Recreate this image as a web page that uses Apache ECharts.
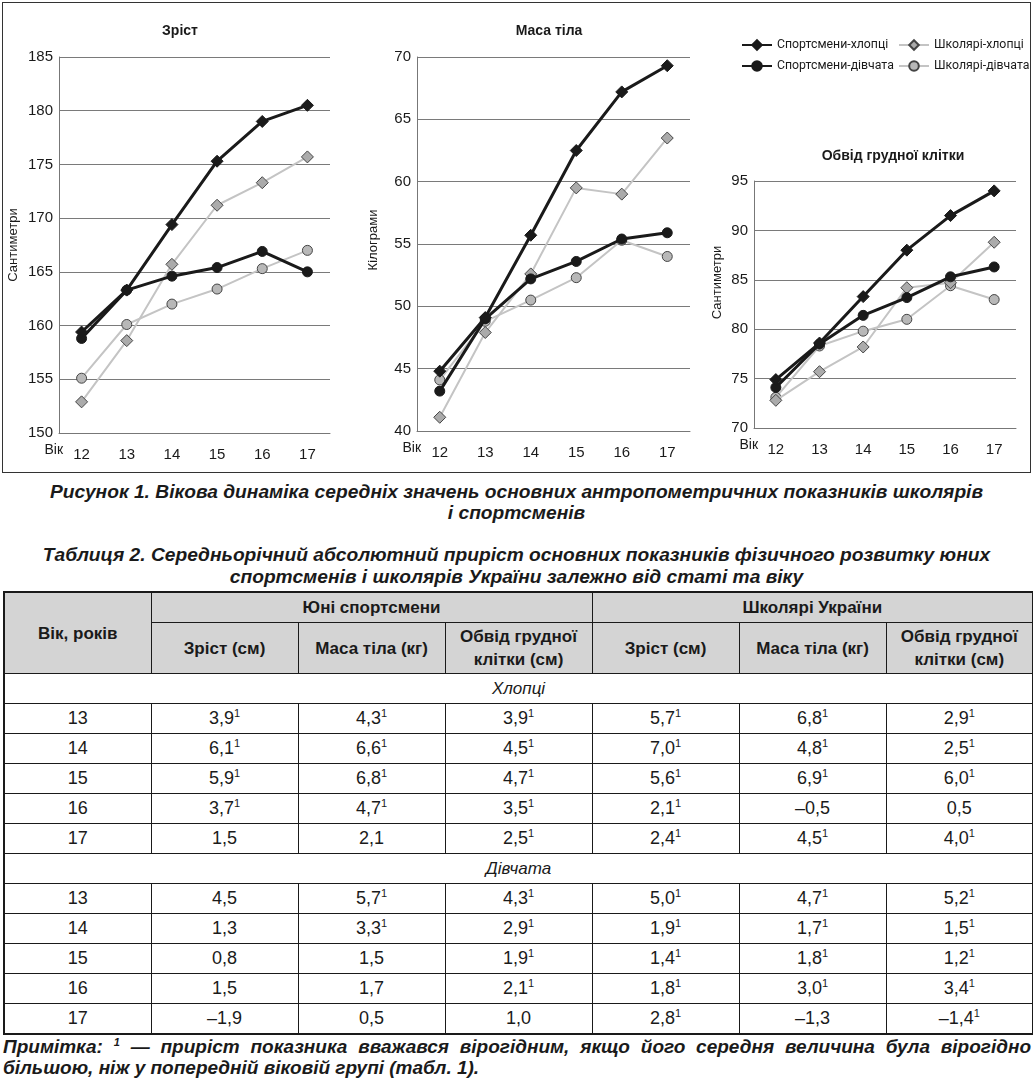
<!DOCTYPE html>
<html><head><meta charset="utf-8">
<script src="https://cdn.jsdelivr.net/npm/echarts@6/dist/echarts.min.js"></script>
<style>
html,body{margin:0;padding:0;background:#fff;width:1033px;height:1081px;overflow:hidden;font-family:"Liberation Sans",Arial,sans-serif;color:#1a1a1a;}
#frame{position:absolute;left:2px;top:2px;width:1027px;height:469px;border:1px solid #333;}
#chart{position:absolute;left:0;top:0;width:1033px;height:475px;}
.cap{position:absolute;left:0;width:1033px;text-align:center;font-weight:bold;font-style:italic;font-size:19.2px;}
#cap1{top:481px;line-height:21px;}
#cap2{top:544px;line-height:22px;}
#tbl{position:absolute;left:3px;top:591px;width:1028px;border-collapse:collapse;table-layout:fixed;border:2px solid #1a1a1a;}
#tbl td{border:1px solid #1a1a1a;text-align:center;vertical-align:middle;padding:0;font-size:18px;height:29px;}
#tbl td.h{background:#d4d4d4;font-weight:bold;font-size:17px;line-height:23px;}
#tbl td.sec{font-style:italic;font-size:17px;}
#tbl sup{font-size:11px;vertical-align:7px;line-height:0;}
#note{position:absolute;left:3px;top:1036px;width:1028px;font-weight:bold;font-style:italic;font-size:19px;line-height:21px;text-align:justify;text-align-last:left;}
#note sup{font-size:11px;vertical-align:7px;line-height:0;}
</style></head>
<body>
<div id="chart"></div>
<div id="frame"></div>
<div id="cap1" class="cap">Рисунок 1. Вікова динаміка середніх значень основних антропометричних показників школярів<br>і спортсменів</div>
<div id="cap2" class="cap">Таблиця 2. Середньорічний абсолютний приріст основних показників фізичного розвитку юних<br>спортсменів і школярів України залежно від статі та віку</div>
<table id="tbl"></table>
<div id="note">Примітка: <sup>1</sup> — приріст показника вважався вірогідним, якщо його середня величина була вірогідно більшою, ніж у попередній віковій групі (табл. 1).</div>
<script>
// ---- chart data ----
const ages = ['12','13','14','15','16','17'];
const seriesNames = ['Спортсмени-хлопці','Школярі-хлопці','Спортсмени-дівчата','Школярі-дівчата'];
const chartTitles = ['Зріст','Маса тіла','Обвід грудної клітки'];
const axisNames = ['Сантиметри','Кілограми','Сантиметри'];

const heightSportBoys   = [159.4,163.3,169.4,175.3,179.0,180.5];
const heightSchoolBoys  = [152.9,158.6,165.7,171.2,173.3,175.7];
const heightSportGirls  = [158.8,163.3,164.6,165.4,166.9,165.0];
const heightSchoolGirls = [155.1,160.1,162.0,163.4,165.3,167.0];

const massSportBoys   = [44.8,49.1,55.7,62.5,67.2,69.3];
const massSchoolBoys  = [41.1,47.9,52.6,59.5,59.0,63.5];
const massSportGirls  = [43.2,49.0,52.2,53.6,55.4,55.9];
const massSchoolGirls = [44.1,48.8,50.5,52.3,55.3,54.0];

const chestSportBoys   = [74.9,78.6,83.3,88.0,91.5,94.0];
const chestSchoolBoys  = [72.8,75.7,78.2,84.2,84.7,88.8];
const chestSportGirls  = [74.1,78.5,81.4,83.2,85.3,86.3];
const chestSchoolGirls = [73.1,78.3,79.8,81.0,84.4,83.0];

const yMins = [150,40,70];
const yMaxs = [185,70,95];

// ---- table data ----
const headGroups = ['Юні спортсмени','Школярі України'];
const headCols = ['Зріст (см)','Маса тіла (кг)','Обвід грудної<br>клітки (см)'];
const ageHead = 'Вік, років';
const sectionBoys = 'Хлопці';
const sectionGirls = 'Дівчата';
const boysRows = [
  ['13','3,9¹','4,3¹','3,9¹','5,7¹','6,8¹','2,9¹'],
  ['14','6,1¹','6,6¹','4,5¹','7,0¹','4,8¹','2,5¹'],
  ['15','5,9¹','6,8¹','4,7¹','5,6¹','6,9¹','6,0¹'],
  ['16','3,7¹','4,7¹','3,5¹','2,1¹','–0,5','0,5'],
  ['17','1,5','2,1','2,5¹','2,4¹','4,5¹','4,0¹']
];
const girlsRows = [
  ['13','4,5','5,7¹','4,3¹','5,0¹','4,7¹','5,2¹'],
  ['14','1,3','3,3¹','2,9¹','1,9¹','1,7¹','1,5¹'],
  ['15','0,8','1,5','1,9¹','1,4¹','1,8¹','1,2¹'],
  ['16','1,5','1,7','2,1¹','1,8¹','3,0¹','3,4¹'],
  ['17','–1,9','0,5','1,0','2,8¹','–1,3','–1,4¹']
];

// ---- build table ----
function cell(v){ return v.endsWith('¹') ? v.slice(0,-1)+'<sup>1</sup>' : v; }
let html = '<colgroup>' + '<col style="width:147px">'.repeat(7) + '</colgroup>';
html += '<tr style="height:30px"><td class="h" rowspan="2">'+ageHead+'</td><td class="h" colspan="3">'+headGroups[0]+'</td><td class="h" colspan="3">'+headGroups[1]+'</td></tr>';
html += '<tr style="height:51px">' + headCols.concat(headCols).map(c=>'<td class="h">'+c+'</td>').join('') + '</tr>';
html += '<tr style="height:30px"><td class="sec" colspan="7">'+sectionBoys+'</td></tr>';
boysRows.forEach(r=>{ html += '<tr style="height:30px">'+r.map(v=>'<td>'+cell(v)+'</td>').join('')+'</tr>'; });
html += '<tr style="height:30px"><td class="sec" colspan="7">'+sectionGirls+'</td></tr>';
girlsRows.forEach(r=>{ html += '<tr style="height:30px">'+r.map(v=>'<td>'+cell(v)+'</td>').join('')+'</tr>'; });
document.getElementById('tbl').innerHTML = html;

// ---- chart ----
const grids = [
  {left:59, top:57, width:271, height:376},
  {left:417, top:57, width:273, height:374},
  {left:754, top:181, width:262, height:247}
];
const titlePos = [{x:175,y:19},{x:544,y:19},{x:888,y:144}];
const nameGaps = [39,37,30];
const namePads = [[0,0,0,0],[0,0,0,8],[0,0,0,44]];
const dataSets = [
  [heightSportBoys,heightSchoolBoys,heightSportGirls,heightSchoolGirls],
  [massSportBoys,massSchoolBoys,massSportGirls,massSchoolGirls],
  [chestSportBoys,chestSchoolBoys,chestSportGirls,chestSchoolGirls]
];
const FONT = '"Liberation Sans", Arial, sans-serif';
const LFONT = 'Roboto, "Liberation Sans", sans-serif';
const styles = [
  {symbol:'diamond', symbolSize:12, line:{color:'#1a1a1a', width:3}, item:{color:'#1a1a1a', borderColor:'#1a1a1a', borderWidth:1}, z:4},
  {symbol:'diamond', symbolSize:12, line:{color:'#c4c4c4', width:2}, item:{color:'#ababab', borderColor:'#444', borderWidth:1}, z:2},
  {symbol:'circle', symbolSize:10, line:{color:'#1a1a1a', width:3}, item:{color:'#1a1a1a', borderColor:'#1a1a1a', borderWidth:1}, z:3},
  {symbol:'circle', symbolSize:10, line:{color:'#c4c4c4', width:2}, item:{color:'#b8b8b8', borderColor:'#444', borderWidth:1}, z:1}
];
const series = [];
dataSets.forEach((set,gi)=>{
  set.forEach((vals,si)=>{
    const s = styles[si];
    series.push({
      name: seriesNames[si], type:'line', xAxisIndex:gi, yAxisIndex:gi,
      data: vals, symbol: s.symbol, symbolSize: s.symbolSize,
      showAllSymbol:true, z: s.z, animation:false,
      lineStyle: s.line, itemStyle: s.item
    });
  });
});
const chart = echarts.init(document.getElementById('chart'), null, {renderer:'canvas'});
chart.setOption({
  animation:false,
  textStyle:{fontFamily:FONT},
  title: chartTitles.map((t,i)=>({text:t, left:titlePos[i].x, top:titlePos[i].y, textAlign:'center',
    textStyle:{fontSize:14, fontWeight:'bold', color:'#1a1a1a', fontFamily:FONT}})),
  legend: [
    {data:[seriesNames[0],seriesNames[2]], orient:'vertical', left:736, top:34, itemWidth:30, itemHeight:12, itemGap:9,
     textStyle:{fontSize:12.3, color:'#1a1a1a', fontFamily:LFONT}},
    {data:[seriesNames[1],seriesNames[3]], orient:'vertical', left:893, top:34, itemWidth:30, itemHeight:12, itemGap:9,
     textStyle:{fontSize:12.3, color:'#1a1a1a', fontFamily:LFONT}}
  ],
  grid: grids,
  xAxis: grids.map((g,i)=>({type:'category', gridIndex:i, data:ages, boundaryGap:true,
    name:'Вік', nameLocation:'start', nameGap:-4,
    nameTextStyle:{fontSize:14, color:'#1a1a1a', verticalAlign:'top', padding:[10,0,0,0], fontFamily:FONT},
    axisLine:{show:true, lineStyle:{color:'#777', width:1}}, axisTick:{show:false},
    axisLabel:{fontSize:15, color:'#1a1a1a', margin:14, fontFamily:FONT}})),
  yAxis: grids.map((g,i)=>({type:'value', gridIndex:i, min:yMins[i], max:yMaxs[i], interval:5,
    name:axisNames[i], nameLocation:'middle', nameGap:nameGaps[i], nameRotate:90,
    nameTextStyle:{fontSize:13, color:'#1a1a1a', padding:namePads[i], fontFamily:FONT},
    axisLine:{show:true, lineStyle:{color:'#777', width:1}}, axisTick:{show:false},
    splitLine:{show:true, lineStyle:{color:'#7a7a7a', width:1}},
    axisLabel:{fontSize:15, color:'#1a1a1a', margin:6, fontFamily:FONT}})),
  series: series
});
</script>
</body></html>
